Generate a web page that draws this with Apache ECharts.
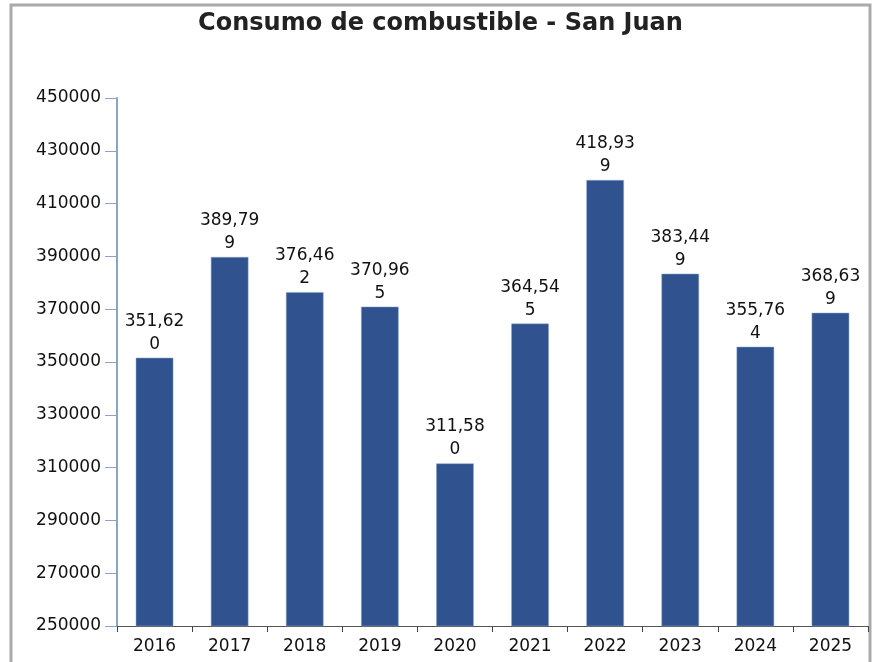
<!DOCTYPE html>
<html>
<head>
<meta charset="utf-8">
<script src="https://cdn.jsdelivr.net/npm/echarts@6/dist/echarts.min.js"></script>
<style>
  html, body { margin: 0; padding: 0; background: #fff; }
  #chart { width: 881px; height: 662px; }
</style>
</head>
<body>
<div id="chart"></div>
<script>
// datos
var years = ['2016', '2017', '2018', '2019', '2020', '2021', '2022', '2023', '2024', '2025'];
var consumo = [351620, 389799, 376462, 370965, 311580, 364545, 418939, 383449, 355764, 368639];
var yTicks = [250000, 270000, 290000, 310000, 330000, 350000, 370000, 390000, 410000, 430000, 450000];

var chart = echarts.init(document.getElementById('chart'));

// "351,620" -> "351,62\n0" como en la imagen
function fmtLabel(p) {
  var s = String(p.value).replace(/\B(?=(\d{3})+(?!\d))/g, ',');
  return s.slice(0, 6) + '\n' + s.slice(6);
}

var option = {
  animation: false,
  textStyle: { fontFamily: 'DejaVu Sans' },
  title: {
    text: 'Consumo de combustible - San Juan',
    left: 'center',
    top: 7,
    textStyle: { fontSize: 24, fontWeight: 'bold', color: '#222', fontFamily: 'DejaVu Sans' }
  },
  graphic: [{
    type: 'rect',
    shape: { x: 11, y: 5, width: 859, height: 700 },
    style: { fill: 'none', stroke: '#aaaaaa', lineWidth: 3 },
    silent: true
  }],
  grid: { left: 117, right: 13, top: 98, bottom: 36 },
  xAxis: {
    type: 'category',
    data: years,
    axisLine: { lineStyle: { color: '#555', width: 1 } },
    axisTick: { show: true, length: 6, lineStyle: { color: '#444' } },
    axisLabel: { color: '#111', fontSize: 17, margin: 12 }
  },
  yAxis: {
    type: 'value',
    min: yTicks[0],
    max: yTicks[yTicks.length - 1],
    interval: 20000,
    axisLine: { show: true, lineStyle: { color: '#8aa4c8', width: 2 } },
    axisTick: { show: true, length: 12, lineStyle: { color: '#8aa4c8' } },
    splitLine: { show: false },
    axisLabel: { color: '#111', fontSize: 17, margin: 16, formatter: function (v) { return String(v); } }
  },
  series: [{
    type: 'bar',
    data: consumo,
    barWidth: '50%',
    itemStyle: { color: '#30528f', borderColor: '#8fa9d3', borderWidth: 0.5 },
    label: {
      show: true,
      position: 'top',
      distance: 2,
      formatter: fmtLabel,
      color: '#111',
      fontSize: 17,
      lineHeight: 23
    }
  }]
};

chart.setOption(option);
</script>
</body>
</html>
